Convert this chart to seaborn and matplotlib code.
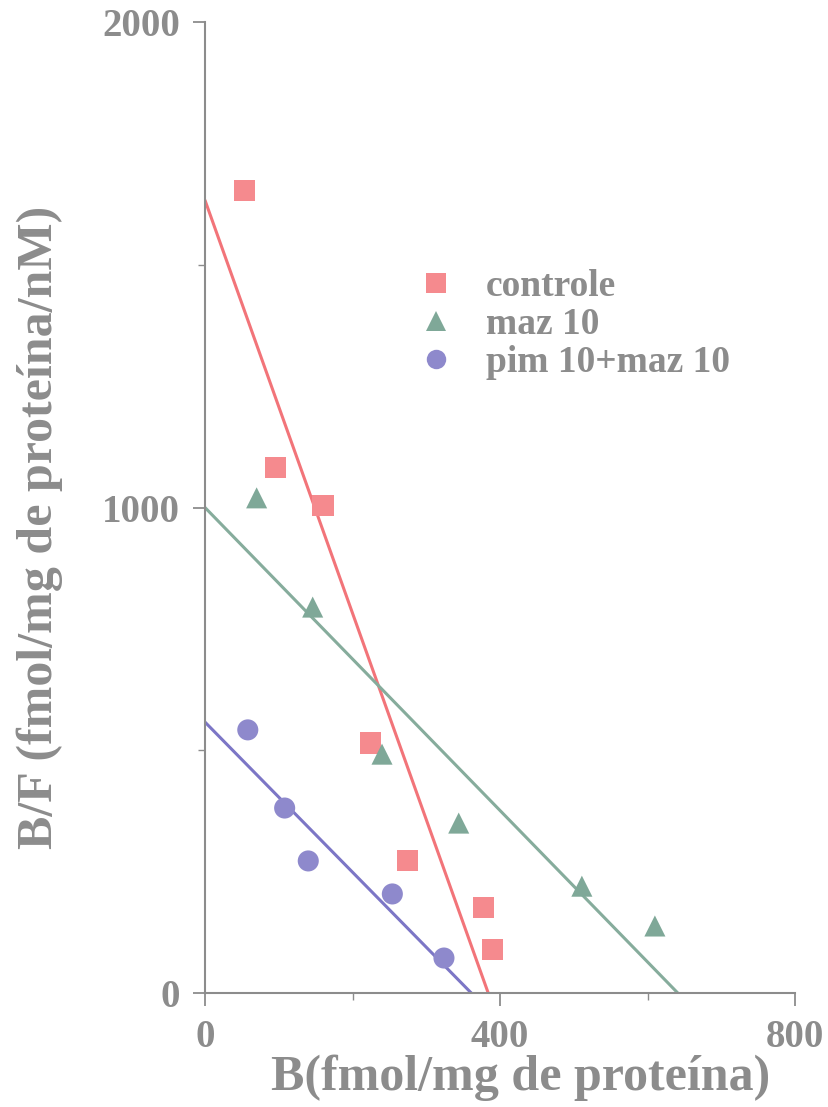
import matplotlib
matplotlib.use("Agg")
import matplotlib.pyplot as plt
import seaborn as sns
import pandas as pd
from matplotlib.lines import Line2D
from matplotlib.ticker import MultipleLocator

sns.set_style("white")
plt.rcParams['font.family'] = ['Liberation Serif', 'DejaVu Serif']

# ---- data ----
series_names = ["controle", "maz 10", "pim 10+maz 10"]
controle_x = [54, 95, 160, 225, 275, 377, 390]
controle_y = [1654, 1083, 1005, 515, 272, 177, 89]
maz_x = [70, 146, 240, 344, 511, 610]
maz_y = [1020, 795, 492, 350, 220, 138]
pim_x = [58, 108, 140, 254, 324]
pim_y = [542, 381, 272, 204, 72]
# fitted lines: y-intercept and x-intercept
line_y0 = [1633, 1000, 558]
line_x0 = [384, 641, 361]

x_ticks = [0, 400, 800]
y_ticks = [0, 1000, 2000]

colors = ["#F58A8E", "#7FA898", "#8E89CC"]
line_colors = ["#F27479", "#86AC9C", "#7C76C6"]
markers = ["s", "^", "o"]
gray = "#8C8C8C"

pts = pd.concat([
    pd.DataFrame({"B": controle_x, "BF": controle_y, "g": series_names[0]}),
    pd.DataFrame({"B": maz_x, "BF": maz_y, "g": series_names[1]}),
    pd.DataFrame({"B": pim_x, "BF": pim_y, "g": series_names[2]}),
])
lines = pd.DataFrame({
    "B": [v for x0 in line_x0 for v in (0, x0)],
    "BF": [v for y0 in line_y0 for v in (y0, 0)],
    "g": [n for n in series_names for _ in range(2)],
})

fig = plt.figure(figsize=(8.29, 11.07), dpi=100)
ax = fig.add_axes([0.2473, 0.103, 0.7117, 0.877])

sns.lineplot(data=lines, x="B", y="BF", hue="g", palette=dict(zip(series_names, line_colors)),
             linewidth=2.2, legend=False, ax=ax, sort=False, estimator=None)
sns.scatterplot(data=pts, x="B", y="BF", hue="g", style="g",
                palette=dict(zip(series_names, colors)),
                markers=dict(zip(series_names, markers)),
                s=230, edgecolor="none", legend=False, ax=ax, zorder=3)

ax.set_xlim(0, 800)
ax.set_ylim(0, 2000)
ax.set_xticks(x_ticks)
ax.set_yticks(y_ticks)
ax.xaxis.set_minor_locator(MultipleLocator(200))
ax.yaxis.set_minor_locator(MultipleLocator(500))
for s in ["top", "right"]:
    ax.spines[s].set_visible(False)
for s in ["left", "bottom"]:
    ax.spines[s].set_color(gray)
    ax.spines[s].set_linewidth(1.5)
ax.tick_params(axis="both", which="major", direction="out", length=9, width=1.3, color=gray,
               labelcolor=gray, labelsize=28, left=True, bottom=True)
ax.tick_params(axis="both", which="minor", direction="out", length=5, width=1.0, color=gray,
               left=True, bottom=True)
ax.tick_params(axis="y", pad=9)
ax.tick_params(axis="x", pad=10)
for lab in ax.get_xticklabels() + ax.get_yticklabels():
    lab.set_fontweight("bold")

ax.set_xlabel("B(fmol/mg de proteína)", fontsize=36, fontweight="bold", color=gray)
ax.xaxis.set_label_coords(0.535, -0.063)
ax.set_ylabel("B/F (fmol/mg de proteína/nM)", fontsize=36, fontweight="bold", color=gray)
ax.yaxis.set_label_coords(-0.24, 0.48)

handles = [Line2D([], [], linestyle="none", marker=m, color=c, markersize=14, markeredgewidth=0)
           for m, c in zip(markers, colors)]
leg = ax.legend(handles, series_names, loc="upper left", bbox_to_anchor=(0.27, 0.78),
                frameon=False, handletextpad=0.35, labelspacing=0.08,
                prop={"weight": "bold", "size": 27})
for t in leg.get_texts():
    t.set_color(gray)

fig.savefig("out.png", dpi=100)
